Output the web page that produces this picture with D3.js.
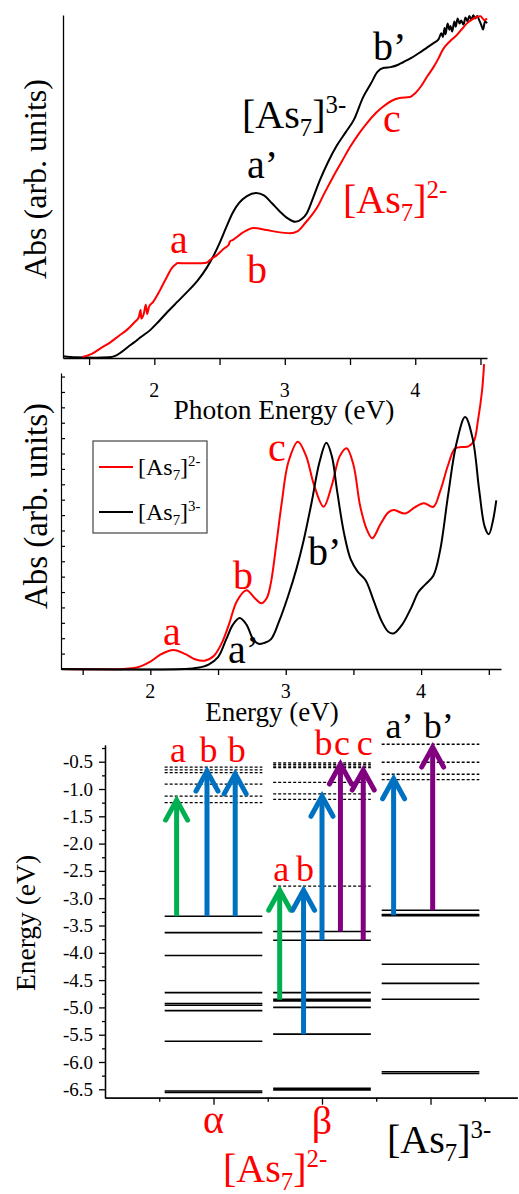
<!DOCTYPE html>
<html>
<head>
<meta charset="utf-8">
<script src="https://cdn.jsdelivr.net/npm/d3@7"></script>
<style>
  html, body { margin: 0; padding: 0; background: #fff; }
  svg { display: block; font-family: "Liberation Serif", "Times New Roman", serif; }
</style>
</head>
<body>
<svg id="fig" width="519" height="1194"></svg>
<script>
// ---------- Experimental absorption (photon energy in eV, absorbance in arb. units) ----------
const expDianion = [
  [1.45,0.003],[1.52,0.012],[1.59,0.029],[1.66,0.045],[1.73,0.065],[1.79,0.082],[1.85,0.105],
  [1.88,0.118],[1.895,0.14],[1.90,0.115],[1.92,0.13],[1.935,0.155],[1.945,0.128],[1.96,0.15],
  [1.99,0.163],[2.04,0.195],[2.09,0.232],[2.14,0.265],[2.16,0.272],[2.18,0.277],[2.25,0.276],
  [2.33,0.276],[2.40,0.278],[2.44,0.29],[2.48,0.300],[2.53,0.318],[2.57,0.33],[2.58,0.34],
  [2.60,0.344],[2.68,0.366],[2.76,0.379],[2.86,0.373],[2.95,0.367],[3.04,0.364],[3.10,0.37],
  [3.16,0.395],[3.25,0.44],[3.31,0.485],[3.37,0.528],[3.44,0.575],[3.50,0.615],[3.57,0.655],
  [3.63,0.685],[3.70,0.715],[3.75,0.732],[3.82,0.75],[3.88,0.758],[3.96,0.761],[4.00,0.772],
  [4.04,0.79],[4.09,0.82],[4.14,0.848],[4.18,0.875],[4.21,0.898],[4.27,0.925],[4.32,0.942],
  [4.36,0.96],[4.40,0.977],[4.44,0.988],[4.47,0.994],[4.50,0.996],[4.53,0.985],[4.55,0.99]
];
const expTrianion = [
  [1.30,0.005],[1.40,0.002],[1.55,0.001],[1.65,0.002],[1.70,0.006],[1.75,0.018],[1.80,0.033],
  [1.84,0.044],[1.90,0.062],[1.97,0.082],[2.03,0.105],[2.10,0.134],[2.18,0.165],[2.25,0.192],
  [2.33,0.225],[2.40,0.262],[2.45,0.295],[2.50,0.335],[2.55,0.38],[2.60,0.423],[2.65,0.452],
  [2.71,0.472],[2.78,0.481],[2.84,0.474],[2.90,0.452],[2.96,0.428],[3.02,0.408],[3.08,0.397],
  [3.13,0.405],[3.17,0.423],[3.22,0.47],[3.27,0.519],[3.33,0.57],[3.40,0.62],[3.47,0.66],
  [3.53,0.695],[3.60,0.76],[3.66,0.80],[3.71,0.834],[3.76,0.846],[3.81,0.848],[3.87,0.855],
  [3.91,0.863],[3.97,0.875],[4.04,0.892],[4.09,0.905],[4.14,0.918],[4.18,0.93],[4.20,0.947],
  [4.212,0.936],[4.225,0.962],[4.232,0.944],[4.248,0.975],[4.262,0.957],[4.27,0.968],[4.283,0.952],
  [4.30,0.981],[4.31,0.966],[4.325,0.99],[4.34,0.975],[4.352,0.984],[4.37,0.972],[4.385,0.993],
  [4.40,0.982],[4.415,0.997],[4.43,0.986],[4.445,0.999],[4.46,0.99],[4.475,0.997],[4.49,0.985],
  [4.505,0.972],[4.52,0.958],[4.535,0.982],[4.55,0.976]
];
const expTicks = [1.5, 2, 2.5, 3, 3.5, 4, 4.5];
const expTickLabels = [2, 3, 4];

// ---------- Calculated absorption spectra (energy in eV, absorbance in arb. units) ----------
const calcDianion = [
  [1.34,0],[1.80,0],[1.90,0.005],[2.00,0.025],[2.08,0.05],[2.17,0.064],[2.26,0.05],[2.33,0.033],
  [2.40,0.028],[2.47,0.045],[2.53,0.09],[2.58,0.15],[2.64,0.23],[2.71,0.266],[2.77,0.24],
  [2.82,0.222],[2.86,0.24],[2.89,0.29],[2.93,0.42],[2.97,0.56],[3.02,0.70],[3.09,0.768],
  [3.15,0.72],[3.21,0.62],[3.28,0.548],[3.34,0.62],[3.40,0.72],[3.45,0.746],[3.50,0.69],
  [3.55,0.55],[3.60,0.47],[3.64,0.442],[3.70,0.49],[3.76,0.53],[3.80,0.537],[3.88,0.525],
  [3.95,0.545],[4.02,0.560],[4.09,0.548],[4.14,0.60],[4.20,0.69],[4.25,0.745],[4.30,0.75],
  [4.35,0.752],[4.39,0.77],[4.42,0.84],[4.45,0.94],[4.465,1.03]
];
const calcTrianion = [
  [1.34,0],[2.25,0],[2.35,0.004],[2.43,0.015],[2.50,0.04],[2.56,0.10],[2.61,0.15],[2.66,0.172],
  [2.71,0.15],[2.76,0.10],[2.80,0.085],[2.84,0.088],[2.89,0.10],[2.95,0.16],[3.02,0.25],
  [3.08,0.34],[3.13,0.43],[3.19,0.56],[3.25,0.70],[3.30,0.764],[3.34,0.72],[3.38,0.60],
  [3.43,0.46],[3.48,0.37],[3.53,0.33],[3.59,0.30],[3.65,0.23],[3.71,0.16],[3.76,0.125],
  [3.80,0.121],[3.86,0.15],[3.93,0.21],[3.98,0.26],[4.03,0.285],[4.09,0.315],[4.14,0.40],
  [4.20,0.59],[4.26,0.76],[4.325,0.851],[4.38,0.78],[4.43,0.60],[4.47,0.48],[4.50,0.455],
  [4.53,0.50],[4.555,0.57]
];
const calcTicks = [1.5, 2, 2.5, 3, 3.5, 4, 4.5];
const calcTickLabels = [2, 3, 4];
const calcMinorStep = 0.052;

// ---------- Orbital energy levels (eV) ----------
const columns = ["α", "β", "[As7]3-"];
const alphaOccupied = [-3.33, -3.63, -4.05, -4.73, -4.93, -4.96, -5.06, -5.62, -6.53, -6.56];
const alphaVirtual  = [-0.60, -0.65, -0.70, -0.91, -1.13, -1.25];
const betaOccupied  = [-3.61, -3.77, -4.73, -4.85, -4.88, -5.00, -5.49, -6.48, -6.51];
const betaVirtual   = [-0.52, -0.55, -0.58, -0.61, -0.88, -1.09, -1.19, -2.78];
const triOccupied   = [-3.22, -3.30, -3.32, -4.21, -4.56, -4.85, -6.18, -6.21];
const triVirtual    = [-0.18, -0.51, -0.73, -0.83];
const energyTicks = [-0.5, -1.0, -1.5, -2.0, -2.5, -3.0, -3.5, -4.0, -4.5, -5.0, -5.5, -6.0, -6.5];

// transitions: column (1 = α, 2 = β, 3 = trianion), slot within column, start/end level, band kind
const transitions = [
  { col: 1, slot: -0.34, from: -3.33, to: -1.13, kind: "a", label: "a" },
  { col: 1, slot: -0.06, from: -3.33, to: -0.60, kind: "b", label: "b" },
  { col: 1, slot:  0.20, from: -3.33, to: -0.65, kind: "b", label: "b" },
  { col: 2, slot: -0.39, from: -4.86, to: -2.78, kind: "a", label: "a" },
  { col: 2, slot: -0.17, from: -5.49, to: -2.78, kind: "b", label: "b" },
  { col: 2, slot:  0.00, from: -3.77, to: -1.06, kind: "b", label: "b" },
  { col: 2, slot:  0.17, from: -3.61, to: -0.47, kind: "c", label: "c" },
  { col: 2, slot:  0.38, from: -3.77, to: -0.58, kind: "c", label: "c" },
  { col: 3, slot: -0.34, from: -3.31, to: -0.74, kind: "b", label: "a’" },
  { col: 3, slot:  0.02, from: -3.22, to: -0.16, kind: "c", label: "b’" }
];

// ---------- Drawing ----------
const RED = "#ff0000", BLACK = "#000000";
const arrowColor = { a: "#00b050", b: "#0070c0", c: "#80007f" };
const svg = d3.select("#fig");

function styleAxis(g, width) {
  g.selectAll(".domain").attr("stroke", BLACK).attr("stroke-width", width);
  g.selectAll(".tick line").attr("stroke", BLACK).attr("stroke-width", width);
  g.attr("font-family", null);
}

// ion formula [As7]n- with subscript and superscript
function ion(sel, x, y, charge, size, color, anchor) {
  const t = sel.append("text").attr("x", x).attr("y", y)
    .attr("font-size", size).attr("fill", color).attr("text-anchor", anchor || "start");
  t.append("tspan").text("[As");
  t.append("tspan").attr("font-size", size * 0.62).attr("dy", size * 0.2).text("7");
  t.append("tspan").attr("dy", -size * 0.2).text("]");
  t.append("tspan").attr("font-size", size * 0.62).attr("dy", -size * 0.38).text(charge + "-");
  return t;
}

function label(sel, x, y, txt, size, color, anchor) {
  sel.append("text").attr("x", x).attr("y", y).attr("font-size", size)
    .attr("fill", color).attr("text-anchor", anchor || "start").text(txt);
}

function yTitle(sel, x, y, txt, size) {
  sel.append("text").attr("transform", `translate(${x},${y}) rotate(-90)`)
    .attr("text-anchor", "middle").attr("font-size", size).attr("fill", BLACK).text(txt);
}

// ===== Panel 1: measured spectra =====
const xExp = d3.scaleLinear().domain([1.3, 4.55]).range([63, 487]);
const yExp = d3.scaleLinear().domain([0, 1]).range([358, 15]);
const gExp = svg.append("g");

const lineExp = d3.line().x(d => xExp(d[0])).y(d => yExp(d[1])).curve(d3.curveMonotoneX);
gExp.append("path").datum(expTrianion).attr("d", lineExp)
  .attr("fill", "none").attr("stroke", BLACK).attr("stroke-width", 2);
gExp.append("path").datum(expDianion).attr("d", lineExp)
  .attr("fill", "none").attr("stroke", RED).attr("stroke-width", 2);

gExp.append("g").attr("transform", `translate(0,${yExp(0)})`)
  .call(d3.axisBottom(xExp).tickValues(expTicks).tickSize(7).tickSizeOuter(0).tickFormat(""))
  .call(g => styleAxis(g, 1.3));
gExp.append("g").attr("transform", `translate(${xExp.range()[0]},0)`)
  .call(d3.axisLeft(yExp).tickValues([]).tickSizeOuter(0))
  .call(g => styleAxis(g, 1.3));

expTickLabels.forEach(v => label(gExp, xExp(v), 397, v, 20, BLACK, "middle"));
label(gExp, 284, 419, "Photon Energy (eV)", 27.5, BLACK, "middle");
yTitle(gExp, 46, 179, "Abs (arb. units)", 32);

label(gExp, 373, 60, "b’", 40, BLACK);
ion(gExp, 242, 128, 3, 40, BLACK);
label(gExp, 383, 132, "c", 40, RED);
label(gExp, 247, 178, "a’", 40, BLACK);
ion(gExp, 343, 213, 2, 40, RED);
label(gExp, 170, 253, "a", 40, RED);
label(gExp, 247, 283, "b", 40, RED);

// ===== Panel 2: calculated spectra =====
const xCalc = d3.scaleLinear().domain([1.34, 4.59]).range([61, 501]);
const yCalc = d3.scaleLinear().domain([0, 1]).range([669, 373]);
const gCalc = svg.append("g");

const lineCalc = d3.line().x(d => xCalc(d[0])).y(d => yCalc(d[1])).curve(d3.curveCatmullRom.alpha(0.5));
gCalc.append("path").datum(calcDianion).attr("d", lineCalc)
  .attr("fill", "none").attr("stroke", RED).attr("stroke-width", 2);
gCalc.append("path").datum(calcTrianion).attr("d", lineCalc)
  .attr("fill", "none").attr("stroke", BLACK).attr("stroke-width", 2);

gCalc.append("g").attr("transform", `translate(0,${yCalc(0)})`)
  .call(d3.axisBottom(xCalc).tickValues(calcTicks).tickSize(6).tickSizeOuter(0).tickFormat(""))
  .call(g => styleAxis(g, 1.3));
gCalc.append("g").attr("transform", `translate(${xCalc.range()[0]},0)`)
  .call(d3.axisLeft(yCalc).tickValues(d3.range(calcMinorStep, 1, calcMinorStep)).tickSize(-4).tickSizeOuter(0).tickFormat(""))
  .call(g => styleAxis(g, 1.2));

calcTickLabels.forEach(v => label(gCalc, xCalc(v), 698, v, 20, BLACK, "middle"));
label(gCalc, 272, 721, "Energy (eV)", 27, BLACK, "middle");
yTitle(gCalc, 47, 506, "Abs (arb. units)", 33);

label(gCalc, 268, 461, "c", 40, RED);
label(gCalc, 308, 565, "b’", 40, BLACK);
label(gCalc, 228, 663, "a’", 40, BLACK);
label(gCalc, 163, 645, "a", 40, RED);
label(gCalc, 233, 589, "b", 40, RED);

// legend
const leg = gCalc.append("g");
leg.append("rect").attr("x", 93).attr("y", 441).attr("width", 114).attr("height", 92)
  .attr("fill", "#fff").attr("stroke", "#444").attr("stroke-width", 1.2);
leg.append("line").attr("x1", 99).attr("x2", 133).attr("y1", 467).attr("y2", 467)
  .attr("stroke", RED).attr("stroke-width", 2);
leg.append("line").attr("x1", 99).attr("x2", 133).attr("y1", 512).attr("y2", 512)
  .attr("stroke", BLACK).attr("stroke-width", 2);
ion(leg, 138, 475, 2, 24, BLACK);
ion(leg, 138, 520, 3, 24, BLACK);

// ===== Panel 3: orbital level diagram =====
const xCol = d3.scaleLinear().domain([0, 3.8]).range([105, 517.3]);
const yEn = d3.scaleLinear().domain([-0.194, -6.654]).range([745, 1097.7]);
const gLev = svg.append("g");

// axes
gLev.append("g").attr("transform", `translate(${xCol(0)},0)`)
  .call(d3.axisLeft(yEn).tickValues(d3.range(-0.25, -6.6, -0.5)).tickSize(3).tickSizeOuter(0).tickFormat(""))
  .call(g => styleAxis(g, 1.3));
gLev.append("g").attr("transform", `translate(${xCol(0)},0)`)
  .call(d3.axisLeft(yEn).tickValues(energyTicks).tickSize(6).tickPadding(6).tickSizeOuter(0)
    .tickFormat(d => d.toFixed(1)))
  .call(g => styleAxis(g, 1.3))
  .call(g => g.selectAll("text").attr("font-size", 19).attr("fill", BLACK));
gLev.append("g").attr("transform", `translate(0,${yEn.range()[1]})`)
  .call(d3.axisBottom(xCol).tickValues([0.5, 1.5, 2.5, 3.5]).tickSize(4).tickSizeOuter(0).tickFormat(""))
  .call(g => styleAxis(g, 1.3));
gLev.append("g").attr("transform", `translate(0,${yEn.range()[1]})`)
  .call(d3.axisBottom(xCol).tickValues([1, 2, 3]).tickSize(7).tickSizeOuter(0).tickFormat(""))
  .call(g => styleAxis(g, 1.3));

yTitle(gLev, 35, 923, "Energy (eV)", 27.5);

// levels
const levelSets = [
  { col: 1, occ: alphaOccupied, virt: alphaVirtual },
  { col: 2, occ: betaOccupied, virt: betaVirtual },
  { col: 3, occ: triOccupied, virt: triVirtual }
];
const halfWidth = 0.45;
levelSets.forEach(s => {
  gLev.selectAll(null).data(s.occ).join("line")
    .attr("x1", xCol(s.col - halfWidth)).attr("x2", xCol(s.col + halfWidth))
    .attr("y1", d => yEn(d)).attr("y2", d => yEn(d))
    .attr("stroke", BLACK).attr("stroke-width", 1.6);
  gLev.selectAll(null).data(s.virt).join("line")
    .attr("x1", xCol(s.col - halfWidth)).attr("x2", xCol(s.col + halfWidth))
    .attr("y1", d => yEn(d)).attr("y2", d => yEn(d))
    .attr("stroke", BLACK).attr("stroke-width", 1.3).attr("stroke-dasharray", "3,2");
});

// arrows
const headW = 11, headL = 20, lw = 5;
transitions.forEach(t => {
  const x = xCol(t.col + t.slot);
  const y0 = yEn(t.from), tip = yEn(t.to) + 4;
  const c = arrowColor[t.kind];
  gLev.append("line").attr("x1", x).attr("x2", x).attr("y1", y0).attr("y2", tip + 2)
    .attr("stroke", c).attr("stroke-width", lw);
  gLev.append("path")
    .attr("d", `M${x - headW},${tip + headL} L${x},${tip} L${x + headW},${tip + headL}`)
    .attr("fill", "none").attr("stroke", c).attr("stroke-width", lw)
    .attr("stroke-linejoin", "miter").attr("stroke-linecap", "round");
});

// transition labels sit just above the highest arrow tip of their group
transitions.forEach(t => {
  const upper = t.to > -2;
  const group = transitions.filter(u => u.col === t.col && (u.to > -2) === upper);
  const rowY = d3.min(group, u => yEn(u.to)) - 5;
  const x = xCol(t.col + t.slot);
  const color = t.col === 3 ? BLACK : RED;
  if (t.label.length > 1) {
    label(gLev, x - (t.label[0] === "a" ? 8 : 9), rowY, t.label, 36, color, "start");
  } else {
    label(gLev, x + 1.5, rowY, t.label, 36, color, "middle");
  }
});

// column captions
label(gLev, xCol(1), 1133, columns[0], 40, RED, "middle");
label(gLev, xCol(2), 1134, columns[1], 40, RED, "middle");
ion(gLev, 387, 1153, 3, 40, BLACK);
ion(gLev, 223, 1182, 2, 40, RED);
</script>
</body>
</html>
